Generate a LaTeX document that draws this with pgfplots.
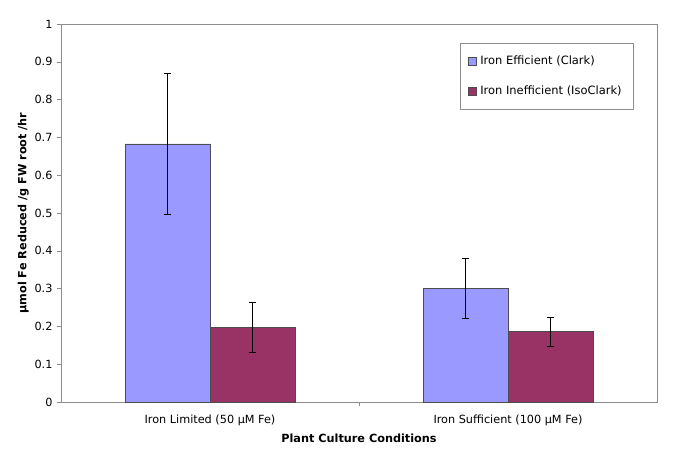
\documentclass[border=0pt]{standalone}
\usepackage{pgfplots}
\pgfplotsset{compat=1.18}
\usepackage{fontspec}
\setmainfont{DejaVu Sans}
\definecolor{cblue}{HTML}{9999FF}
\definecolor{cmaroon}{HTML}{993366}
\definecolor{axgray}{HTML}{8C8C8C}
\begin{document}
\begin{tikzpicture}
\useasboundingbox (-61bp,-58bp) rectangle (622bp,402bp);
\begin{axis}[
  at={(0,0)}, anchor=south west,
  scale only axis, width=596bp, height=378bp,
  xmin=0, xmax=2, ymin=0, ymax=1,
  ytick={0,0.1,...,1},
  yticklabel style={/pgf/number format/fixed,/pgf/number format/precision=1},
  /pgf/number format/assume math mode=true,
  xtick={0.5,1.5},
  xticklabels={Iron Limited (50 µM Fe),Iron Sufficient (100 µM Fe)},
  major x tick style={draw=none},
  minor xtick={1},
  xtick pos=bottom, ytick pos=left,
  tick align=outside,
  major tick length=4bp, minor tick length=4bp,
  axis line style={axgray},
  every tick/.style={axgray},
  ticklabel style={font=\fontsize{11.3}{13}\selectfont},
  yticklabel style={xshift=-1bp},
  xticklabel style={yshift=-5bp},
  xlabel={\bfseries Plant Culture Conditions},
  ylabel={\bfseries µmol Fe Reduced /g FW root /hr},
  label style={font=\fontsize{11.3}{13}\selectfont},
  xlabel style={yshift=-2bp},
  ylabel style={yshift=-1bp},
  ybar, bar width=0.285,
  legend style={at={(0.669,0.95)}, anchor=north west, draw=axgray,
    font=\fontsize{11.5}{13}\selectfont, row sep=16bp, inner xsep=8bp, inner ysep=11bp,
    nodes={inner xsep=4bp}},
  legend cell align=left,
  legend image code/.code={\draw[#1, draw=black!70, line width=0.4pt] (0bp,-4bp) rectangle (8bp,4bp);},
]
\addplot[fill=cblue, draw=black!70, line width=0.6pt, bar shift=-0.1425,
  error bars/.cd, y dir=both, y explicit,
  error bar style={black, line width=0.6pt},
  error mark options={rotate=90, mark size=3.5bp, black, line width=0.6pt}]
  coordinates {(0.5,0.683) +- (0,0.187) (1.5,0.301) +- (0,0.080)};
\addplot[fill=cmaroon, draw=black!70, line width=0.6pt, bar shift=0.1425,
  error bars/.cd, y dir=both, y explicit,
  error bar style={black, line width=0.6pt},
  error mark options={rotate=90, mark size=3.5bp, black, line width=0.6pt}]
  coordinates {(0.5,0.198) +- (0,0.067) (1.5,0.186) +- (0,0.038)};
\legend{Iron Efficient (Clark),Iron Inefficient (IsoClark)}
\end{axis}
\end{tikzpicture}
\end{document}
